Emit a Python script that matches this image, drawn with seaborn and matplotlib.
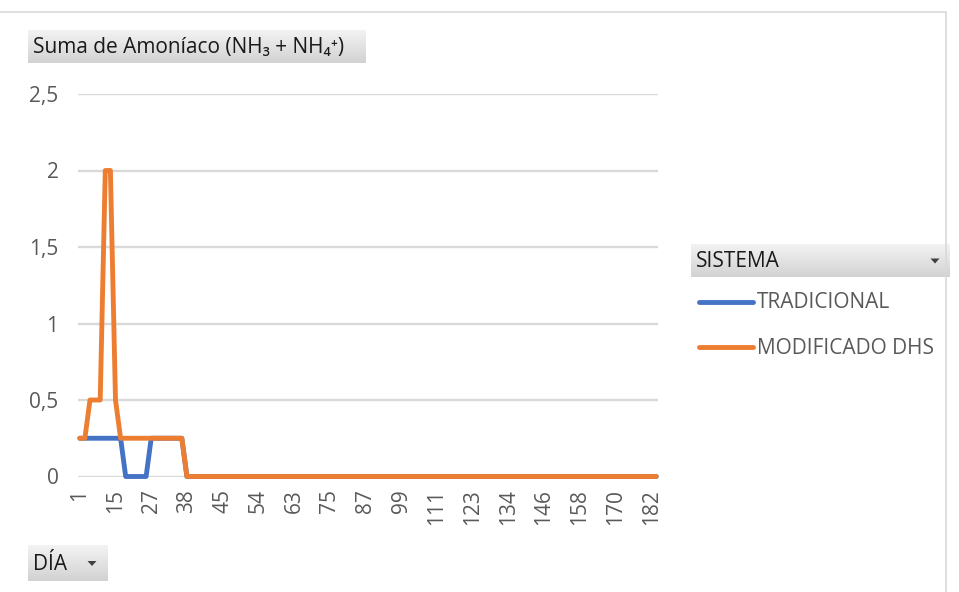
import numpy as np
import pandas as pd
import matplotlib
matplotlib.use("Agg")
import matplotlib.pyplot as plt
from matplotlib.lines import Line2D
from matplotlib.patches import Polygon
from matplotlib.colors import LinearSegmentedColormap
import seaborn as sns

# Sampling days (category axis of the pivot chart)
days = [
    1, 3, 5, 7, 9, 11, 13, 15, 17, 19, 21, 23, 25, 26, 27, 29, 31, 33, 35, 36,
    37, 38, 39, 40, 41, 42, 43, 44, 45, 46, 47, 49, 50, 52, 53, 54, 55, 57, 58, 59,
    61, 62, 63, 65, 67, 69, 71, 72, 73, 75, 77, 79, 81, 83, 84, 85, 87, 89, 91, 93,
    95, 96, 97, 99, 101, 103, 105, 107, 108, 109, 111, 113, 115, 117, 119, 120, 121, 123, 125, 127,
    129, 131, 132, 133, 134, 136, 138, 140, 142, 143, 144, 146, 148, 150, 152, 154, 155, 156, 158, 160,
    162, 164, 166, 167, 168, 170, 172, 174, 176, 178, 179, 180, 182, 184,
]

# Sum of ammonia (NH3 + NH4+) per system
tradicional = [
    0.25, 0.25, 0.25, 0.25, 0.25, 0.25, 0.25, 0.25, 0.25, 0, 0, 0, 0, 0, 0.25, 0.25, 0.25, 0.25, 0.25, 0.25, 0.25,
    0, 0, 0, 0, 0, 0, 0, 0, 0, 0, 0, 0, 0, 0, 0, 0, 0, 0, 0, 0, 0, 0, 0, 0, 0, 0, 0, 0, 0, 0, 0,
    0, 0, 0, 0, 0, 0, 0, 0, 0, 0, 0, 0, 0, 0, 0, 0, 0, 0, 0, 0, 0, 0, 0, 0, 0, 0, 0, 0, 0, 0, 0,
    0, 0, 0, 0, 0, 0, 0, 0, 0, 0, 0, 0, 0, 0, 0, 0, 0, 0, 0, 0, 0, 0, 0, 0, 0, 0, 0, 0, 0, 0, 0,
]
modificado_dhs = [
    0.25, 0.25, 0.5, 0.5, 0.5, 2, 2, 0.5, 0.25, 0.25, 0.25, 0.25, 0.25, 0.25, 0.25, 0.25, 0.25, 0.25, 0.25, 0.25, 0.25,
    0, 0, 0, 0, 0, 0, 0, 0, 0, 0, 0, 0, 0, 0, 0, 0, 0, 0, 0, 0, 0, 0, 0, 0, 0, 0, 0, 0, 0, 0, 0,
    0, 0, 0, 0, 0, 0, 0, 0, 0, 0, 0, 0, 0, 0, 0, 0, 0, 0, 0, 0, 0, 0, 0, 0, 0, 0, 0, 0, 0, 0, 0,
    0, 0, 0, 0, 0, 0, 0, 0, 0, 0, 0, 0, 0, 0, 0, 0, 0, 0, 0, 0, 0, 0, 0, 0, 0, 0, 0, 0, 0, 0, 0,
]

series_names = ["TRADICIONAL", "MODIFICADO DHS"]
series_colors = ["#4472C4", "#ED7D31"]
y_ticks = [0, 0.5, 1, 1.5, 2, 2.5]
label_every = 7

value_title = "Suma de Amoníaco (NH₃ + NH₄⁺)"
legend_title = "SISTEMA"
axis_field = "DÍA"

W, H = 959, 592
sns.set_theme(style="white")
plt.rcParams["font.family"] = ["Open Sans", "DejaVu Sans"]
plt.rcParams["lines.solid_capstyle"] = "round"
plt.rcParams["lines.solid_joinstyle"] = "round"

fig = plt.figure(figsize=(W / 100, H / 100), dpi=100)
fig.patch.set_facecolor("white")


def fx(x):
    return x / W


def fy(y):
    return 1 - y / H


def px_axes(x0, y0, x1, y1):
    return fig.add_axes([fx(x0), fy(y1), (x1 - x0) / W, (y1 - y0) / H])


def field_button(x0, y0, x1, y1, text, tx, arrow_x=None):
    bax = px_axes(x0, y0, x1, y1)
    cmap = LinearSegmentedColormap.from_list("btn", ["#f3f3f3", "#d2d2d2"])
    bax.imshow(np.linspace(0, 1, 64).reshape(-1, 1), cmap=cmap, aspect="auto",
               extent=[0, 1, 0, 1], origin="upper")
    bax.set_xlim(0, 1)
    bax.set_ylim(0, 1)
    bax.axis("off")
    cy = (y0 + y1) / 2
    fig.text(fx(tx), fy(cy + 1), text, fontsize=15, color="#1a1a1a", ha="left", va="center")
    if arrow_x is not None:
        tri = [(fx(arrow_x - 4.5), fy(cy - 2)), (fx(arrow_x + 4.5), fy(cy - 2)), (fx(arrow_x), fy(cy + 3))]
        fig.add_artist(Polygon(tri, closed=True, transform=fig.transFigure,
                               facecolor="#404040", edgecolor="none"))


# Main plot area
ax = px_axes(78, 94, 658, 476.5)
pos = list(range(len(days)))
df = pd.DataFrame({
    "pos": pos * 2,
    "valor": tradicional + modificado_dhs,
    "SISTEMA": [series_names[0]] * len(days) + [series_names[1]] * len(days),
})
sns.lineplot(data=df, x="pos", y="valor", hue="SISTEMA", hue_order=series_names,
             palette=series_colors, linewidth=3.5, legend=False, sort=False,
             estimator=None, ax=ax)
for ln in ax.lines:
    ln.set_clip_on(False)
    ln.set_zorder(3)

ax.set_xlim(-0.35, len(days) - 1 + 0.35)
ax.set_ylim(0, 2.5)
ax.set_yticks(y_ticks)
ax.set_yticklabels([f"{v:g}".replace(".", ",") for v in y_ticks])
ax.set_xticks(pos[::label_every])
ax.set_xticklabels([str(d) for d in days[::label_every]], rotation=90)
ax.grid(axis="y", color="#d9d9d9", linewidth=1.7)
ax.grid(axis="x", visible=False)
ax.set_axisbelow(True)
for s in ax.spines.values():
    s.set_visible(False)
ax.tick_params(axis="y", length=0, pad=14, labelsize=15, labelcolor="#595959")
ax.tick_params(axis="x", length=0, pad=9, labelsize=15, labelcolor="#595959")
ax.set_xlabel("")
ax.set_ylabel("")
ax.set_facecolor("none")

# Chart-area frame
fig.add_artist(Line2D([0, fx(946)], [fy(12), fy(12)], color="#d9d9d9", lw=1.2, transform=fig.transFigure))
fig.add_artist(Line2D([fx(946), fx(946)], [fy(12), 0], color="#d9d9d9", lw=1.2, transform=fig.transFigure))

# Pivot field buttons
field_button(28, 30, 365, 63, value_title, 33)
field_button(691, 244, 950, 277, legend_title, 696, arrow_x=935)
field_button(28, 545, 108, 581, axis_field, 33, arrow_x=92)

# Legend entries
for i, (name, col) in enumerate(zip(series_names, series_colors)):
    ly = 301.5 + i * 45.5
    fig.add_artist(Line2D([fx(699), fx(753)], [fy(ly), fy(ly)], color=col, lw=3.5,
                          solid_capstyle="round", transform=fig.transFigure))
    fig.text(fx(757), fy(ly + 1), name, fontsize=15, color="#595959", ha="left", va="center")

fig.savefig("out.png", dpi=100)
